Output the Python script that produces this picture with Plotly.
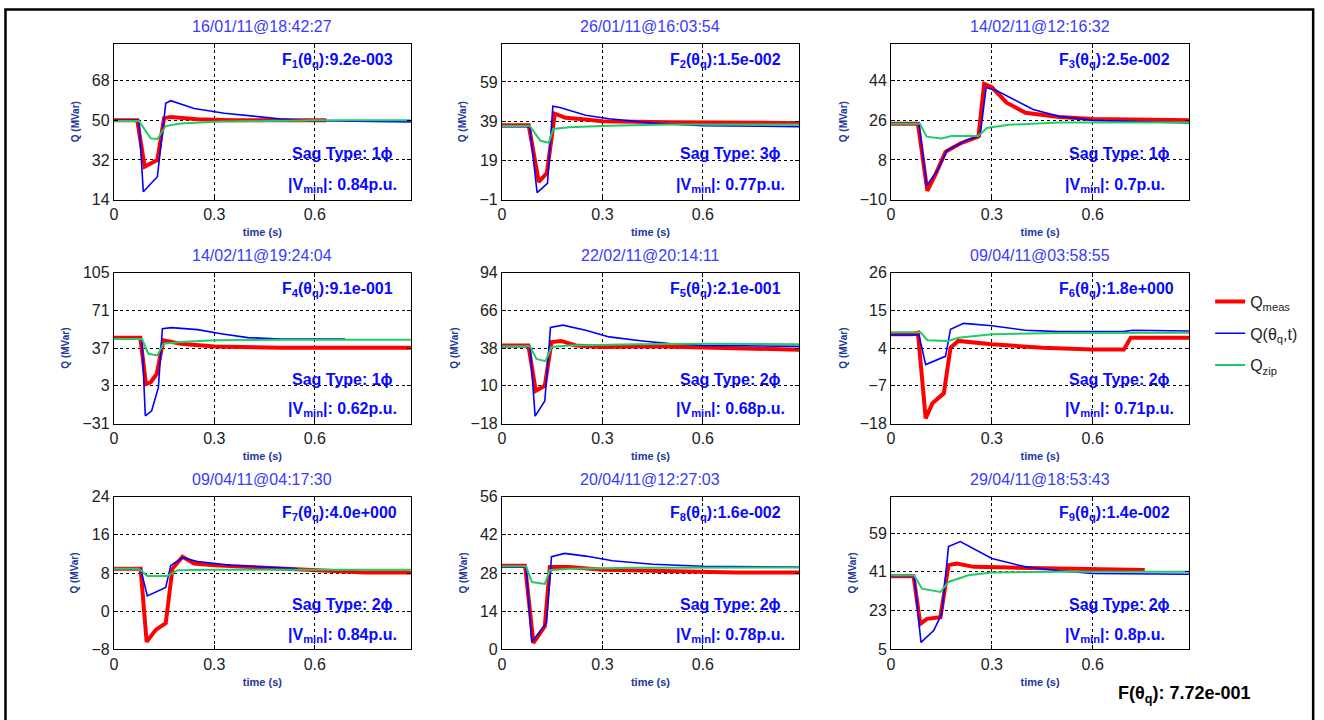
import plotly.graph_objects as go

# ---------------- data ----------------
TITLES = ["16/01/11@18:42:27", "26/01/11@16:03:54", "14/02/11@12:16:32",
          "14/02/11@19:24:04", "22/02/11@20:14:11", "09/04/11@03:58:55",
          "09/04/11@04:17:30", "20/04/11@12:27:03", "29/04/11@18:53:43"]
F_VALUES = ["9.2e-003", "1.5e-002", "2.5e-002", "9.1e-001", "2.1e-001",
            "1.8e+000", "4.0e+000", "1.6e-002", "1.4e-002"]
SAG_TYPES = ["1ϕ", "3ϕ", "1ϕ", "1ϕ", "2ϕ", "2ϕ", "2ϕ", "2ϕ", "2ϕ"]
V_MIN = ["0.84", "0.77", "0.7", "0.62", "0.68", "0.71", "0.84", "0.78", "0.8"]
F_TOTAL = "7.72e-001"

Y_TICKS = [[14, 32, 50, 68], [-1, 19, 39, 59], [-10, 8, 26, 44],
           [-31, 3, 37, 71, 105], [-18, 10, 38, 66, 94], [-18, -7, 4, 15, 26],
           [-8, 0, 8, 16, 24], [0, 14, 28, 42, 56], [5, 23, 41, 59]]
Y_RANGES = [[14, 84.8], [-1, 78.5], [-10, 60.8], [-31, 105], [-18, 94],
            [-18, 26], [-8, 24], [0, 56], [5, 75.9]]
X_TICKS = [0, 0.3, 0.6]
X_RANGE = [0, 0.887]

# subplot 1
T1_MEAS = [0, 0.07, 0.092, 0.13, 0.15, 0.17, 0.25, 0.35, 0.635]
Q1_MEAS = [50, 50, 29, 32, 51, 51.5, 50.5, 50, 50]
T1_MOD = [0, 0.075, 0.088, 0.13, 0.155, 0.17, 0.24, 0.33, 0.43, 0.5, 0.6, 0.887]
Q1_MOD = [50, 50, 17.6, 24.4, 57.7, 58.9, 55.4, 53.2, 51.7, 50.6, 49.8, 49.3]
T1_ZIP = [0, 0.075, 0.11, 0.13, 0.155, 0.2, 0.3, 0.6, 0.887]
Q1_ZIP = [49.7, 49.7, 41.8, 41.5, 47.4, 48.6, 49.4, 50, 50]
# subplot 2
T2_MEAS = [0, 0.08, 0.11, 0.134, 0.158, 0.19, 0.25, 0.3, 0.5, 0.7, 0.887]
Q2_MEAS = [36.9, 36.9, 8.1, 12.5, 42.8, 40.7, 39.9, 39, 38.5, 38, 38]
T2_MOD = [0, 0.083, 0.105, 0.136, 0.152, 0.173, 0.25, 0.32, 0.45, 0.6, 0.887]
Q2_MOD = [36.2, 36.2, 2.6, 7.3, 46.6, 46, 42, 40.2, 38, 36.7, 36.2]
T2_ZIP = [0, 0.083, 0.115, 0.14, 0.153, 0.2, 0.32, 0.5, 0.887]
Q2_ZIP = [36.6, 36.6, 29, 28, 35, 35.9, 36.7, 37.3, 37.3]
# subplot 3
T3_MEAS = [0, 0.08, 0.108, 0.133, 0.162, 0.206, 0.26, 0.277, 0.3, 0.344, 0.4, 0.5, 0.6, 0.887]
Q3_MEAS = [24.5, 24.5, -6, 1.7, 11.7, 15.5, 18.6, 42.5, 41, 34, 29.4, 27.5, 26.6, 26]
T3_MOD = [0, 0.083, 0.106, 0.138, 0.167, 0.226, 0.265, 0.283, 0.315, 0.364, 0.423, 0.5, 0.6, 0.887]
Q3_MOD = [24.5, 24.5, -3.7, 3.2, 12.5, 17.1, 18.9, 40.9, 39.4, 35.5, 30.9, 27.8, 26, 24.8]
T3_ZIP = [0, 0.086, 0.106, 0.15, 0.18, 0.26, 0.285, 0.35, 0.5, 0.887]
Q3_ZIP = [24.5, 24.5, 18.6, 17.8, 18.9, 18.9, 22.5, 24, 25, 25]
# subplot 4
T4_MEAS = [0, 0.079, 0.096, 0.11, 0.128, 0.148, 0.2, 0.3, 0.5, 0.887]
Q4_MEAS = [46.4, 46.4, 4.7, 6.2, 13.7, 44, 41, 38.5, 37.3, 37.3]
T4_MOD = [0, 0.084, 0.094, 0.113, 0.133, 0.145, 0.172, 0.25, 0.32, 0.4, 0.5, 0.69]
Q4_MOD = [45.2, 45.2, -24, -19.5, 1.6, 54.5, 55.4, 53.6, 50, 46.4, 45.2, 45.2]
T4_ZIP = [0, 0.084, 0.103, 0.13, 0.148, 0.2, 0.3, 0.5, 0.887]
Q4_ZIP = [45.2, 45.2, 31.9, 30.4, 41, 42.4, 44, 44.6, 44.6]
# subplot 5
T5_MEAS = [0, 0.079, 0.101, 0.128, 0.148, 0.177, 0.22, 0.3, 0.45, 0.6, 0.887]
Q5_MEAS = [40, 40, 6.3, 10, 42.5, 43.3, 40, 38.8, 39.3, 38.3, 36.8]
T5_MOD = [0, 0.084, 0.099, 0.128, 0.145, 0.182, 0.25, 0.32, 0.42, 0.5, 0.6, 0.887]
Q5_MOD = [39.3, 39.3, -12.5, -1.3, 53.3, 55, 51.3, 46.3, 43.3, 41.3, 40, 39.3]
T5_ZIP = [0, 0.084, 0.103, 0.13, 0.148, 0.2, 0.4, 0.6, 0.887]
Q5_ZIP = [39.3, 39.3, 30, 28.3, 38.8, 40, 40.8, 41.3, 40.8]
# subplot 6
T6_MEAS = [0, 0.064, 0.08, 0.103, 0.123, 0.157, 0.177, 0.2, 0.3, 0.45, 0.6, 0.693, 0.713, 0.887]
Q6_MEAS = [8, 8, 8.5, -16.5, -12.1, -9.2, 4.1, 6.1, 5.1, 4.1, 3.6, 3.6, 7, 7]
T6_MOD = [0, 0.083, 0.103, 0.162, 0.177, 0.216, 0.3, 0.4, 0.5, 0.69, 0.72, 0.887]
Q6_MOD = [7.8, 7.8, -0.8, 1.6, 9.5, 11.2, 10.5, 9.2, 8.8, 8.8, 9.2, 9]
T6_ZIP = [0, 0.088, 0.108, 0.17, 0.2, 0.3, 0.5, 0.887]
Q6_ZIP = [8.6, 8.6, 6.3, 6.1, 7, 8, 8.4, 8.5]
# subplot 7
T7_MEAS = [0, 0.08, 0.098, 0.125, 0.155, 0.175, 0.205, 0.24, 0.3, 0.45, 0.55, 0.75, 0.887]
Q7_MEAS = [8.9, 8.9, -6.4, -3.9, -2.5, 8.9, 11.4, 10, 9.6, 9.1, 8.6, 8.1, 8.1]
T7_MOD = [0, 0.08, 0.1, 0.155, 0.17, 0.205, 0.25, 0.35, 0.5, 0.55]
Q7_MOD = [8.9, 8.9, 3.2, 5, 9.6, 11.2, 10.4, 9.6, 9.1, 8.9]
T7_ZIP = [0, 0.075, 0.1, 0.16, 0.19, 0.3, 0.887]
Q7_ZIP = [8.9, 8.9, 7.4, 7.4, 8.6, 8.7, 8.7]
# subplot 8
T8_MEAS = [0, 0.069, 0.094, 0.128, 0.143, 0.2, 0.3, 0.5, 0.7, 0.887]
Q8_MEAS = [30.7, 30.7, 2.4, 8.5, 30.2, 30.2, 29.2, 28.7, 28.2, 28.2]
T8_MOD = [0, 0.072, 0.089, 0.133, 0.148, 0.187, 0.25, 0.33, 0.45, 0.6, 0.887]
Q8_MOD = [30.2, 30.2, 2.7, 9.8, 34, 35.2, 34.2, 32.5, 31.2, 30.5, 30.2]
T8_ZIP = [0, 0.072, 0.089, 0.128, 0.143, 0.2, 0.4, 0.887]
Q8_ZIP = [30.5, 30.5, 24.7, 24, 29, 29.6, 29.9, 30]
# subplot 9
T9_MEAS = [0, 0.067, 0.087, 0.107, 0.147, 0.171, 0.196, 0.246, 0.35, 0.5, 0.755]
Q9_MEAS = [39, 39, 16.9, 19.2, 20, 44.1, 44.9, 43.3, 43, 42.4, 41.8]
T9_MOD = [0, 0.069, 0.089, 0.127, 0.151, 0.171, 0.206, 0.255, 0.3, 0.4, 0.5, 0.6, 0.887]
Q9_MOD = [39, 39, 8.3, 13.8, 21.6, 52.7, 55, 51.1, 47.2, 43.3, 41.5, 40.2, 39.9]
T9_ZIP = [0, 0.069, 0.092, 0.147, 0.171, 0.23, 0.3, 0.5, 0.887]
Q9_ZIP = [39.3, 39.3, 33.2, 31.7, 36.3, 39.4, 40.7, 41, 41]

MEAS = [(T1_MEAS, Q1_MEAS), (T2_MEAS, Q2_MEAS), (T3_MEAS, Q3_MEAS), (T4_MEAS, Q4_MEAS),
        (T5_MEAS, Q5_MEAS), (T6_MEAS, Q6_MEAS), (T7_MEAS, Q7_MEAS), (T8_MEAS, Q8_MEAS),
        (T9_MEAS, Q9_MEAS)]
MOD = [(T1_MOD, Q1_MOD), (T2_MOD, Q2_MOD), (T3_MOD, Q3_MOD), (T4_MOD, Q4_MOD),
       (T5_MOD, Q5_MOD), (T6_MOD, Q6_MOD), (T7_MOD, Q7_MOD), (T8_MOD, Q8_MOD),
       (T9_MOD, Q9_MOD)]
ZIP = [(T1_ZIP, Q1_ZIP), (T2_ZIP, Q2_ZIP), (T3_ZIP, Q3_ZIP), (T4_ZIP, Q4_ZIP),
       (T5_ZIP, Q5_ZIP), (T6_ZIP, Q6_ZIP), (T7_ZIP, Q7_ZIP), (T8_ZIP, Q8_ZIP),
       (T9_ZIP, Q9_ZIP)]

# ---------------- layout / style ----------------
W, H = 1324, 720
# measured mapping between page pixels and the photographed picture
SX, OX = 0.9967, 4.2
SY, OY = 0.9767, 7.3


def px(xr):
    return ((xr - OX) / SX) / W


def py(yr):
    return 1 - ((yr - OY) / SY) / H


FONT = "Arial, Liberation Sans, sans-serif"
COL_X = [(114, 411), (502, 799), (891, 1189)]
ROW_Y = [(43, 199), (272, 423), (496, 649)]
RED, BLUE, GREEN = "#ff0000", "#0000ff", "#20cc66"
TXT_BLUE = "#0a0aff"
TITLE_BLUE = "#3a3aff"
LBL_BLUE = "#1e3799"

fig = go.Figure()
layout = dict(width=W, height=H, margin=dict(l=0, r=0, t=0, b=0),
              paper_bgcolor="white", plot_bgcolor="white",
              font=dict(family=FONT, color="#222222"), showlegend=True)
annotations = []

for i in range(9):
    r, c = divmod(i, 3)
    xa = "x" if i == 0 else f"x{i+1}"
    ya = "y" if i == 0 else f"y{i+1}"
    xkey = "xaxis" if i == 0 else f"xaxis{i+1}"
    ykey = "yaxis" if i == 0 else f"yaxis{i+1}"
    x0, x1 = COL_X[c]
    ytop, ybot = ROW_Y[r]
    layout[xkey] = dict(
        domain=[px(x0), px(x1)], anchor=ya, range=X_RANGE, tickvals=X_TICKS,
        ticktext=["0", "0.3", "0.6"], showline=True, linecolor="black", linewidth=1,
        mirror="ticks", ticks="inside", ticklen=4, tickcolor="black",
        showgrid=True, gridcolor="black", griddash="3px,3px", gridwidth=1,
        zeroline=False, tickfont=dict(size=16, color="#222222"),
        title=dict(text="<b>time (s)</b>", font=dict(size=11, color=LBL_BLUE), standoff=6),
    )
    layout[ykey] = dict(
        domain=[py(ybot), py(ytop)], anchor=xa, range=Y_RANGES[i],
        tickvals=Y_TICKS[i], showline=True, linecolor="black", linewidth=1,
        mirror="ticks", ticks="inside", ticklen=4, tickcolor="black",
        showgrid=True, gridcolor="black", griddash="3px,3px", gridwidth=1,
        zeroline=False, tickfont=dict(size=16, color="#222222"),
        title=dict(text="<b>Q (MVar)</b>", font=dict(size=10, color=LBL_BLUE), standoff=10),
    )
    first = i == 0
    fig.add_trace(go.Scatter(x=MEAS[i][0], y=MEAS[i][1], mode="lines", xaxis=xa, yaxis=ya,
                             line=dict(color=RED, width=4), name="Q<sub>meas</sub>",
                             legendgroup="meas", showlegend=first))
    fig.add_trace(go.Scatter(x=MOD[i][0], y=MOD[i][1], mode="lines", xaxis=xa, yaxis=ya,
                             line=dict(color=BLUE, width=1.6), name="Q(θ<sub>q</sub>,t)",
                             legendgroup="mod", showlegend=first))
    fig.add_trace(go.Scatter(x=ZIP[i][0], y=ZIP[i][1], mode="lines", xaxis=xa, yaxis=ya,
                             line=dict(color=GREEN, width=2), name="Q<sub>zip</sub>",
                             legendgroup="zip", showlegend=first))
    annotations.append(dict(text=TITLES[i], xref="paper", yref="paper",
                            x=px((x0 + x1) / 2), y=py(ytop - 17),
                            xanchor="center", yanchor="middle", showarrow=False,
                            font=dict(size=16, color=TITLE_BLUE, family=FONT)))
    annotations.append(dict(text=f"<b>F<sub>{i+1}</sub>(θ<sub>q</sub>):{F_VALUES[i]}</b>",
                            xref=xa, yref=f"{ya} domain", x=0.495, y=0.89,
                            xanchor="left", yanchor="middle", showarrow=False,
                            font=dict(size=16, color=TXT_BLUE, family=FONT)))
    annotations.append(dict(text=f"<b>Sag Type: {SAG_TYPES[i]}</b>",
                            xref=xa, yref=f"{ya} domain", x=0.525, y=0.295,
                            xanchor="left", yanchor="middle", showarrow=False,
                            font=dict(size=16, color=TXT_BLUE, family=FONT)))
    annotations.append(dict(text=f"<b>|V<sub>min</sub>|: {V_MIN[i]}p.u.</b>",
                            xref=xa, yref=f"{ya} domain", x=0.513, y=0.09,
                            xanchor="left", yanchor="middle", showarrow=False,
                            font=dict(size=16, color=TXT_BLUE, family=FONT)))

annotations.append(dict(text=f"<b>F(θ<sub>q</sub>): {F_TOTAL}</b>", xref="paper", yref="paper",
                        x=px(1116), y=py(694), xanchor="left", yanchor="middle",
                        showarrow=False, font=dict(size=18, color="black", family=FONT)))

layout["annotations"] = annotations
layout["legend"] = dict(x=px(1210), y=py(284), xanchor="left", yanchor="top",
                        font=dict(size=16, color="#222222", family=FONT),
                        bgcolor="rgba(0,0,0,0)", tracegroupgap=8)
layout["shapes"] = [dict(type="rect", xref="paper", yref="paper",
                         x0=1.5 / W, x1=px(1313), y0=-0.05, y1=1 - 1.5 / H,
                         line=dict(color="black", width=2.5), fillcolor="rgba(0,0,0,0)",
                         layer="above")]
fig.update_layout(**layout)

fig.write_html("out.html", config={"displayModeBar": False},
               post_script="document.body.style.margin='0';")
